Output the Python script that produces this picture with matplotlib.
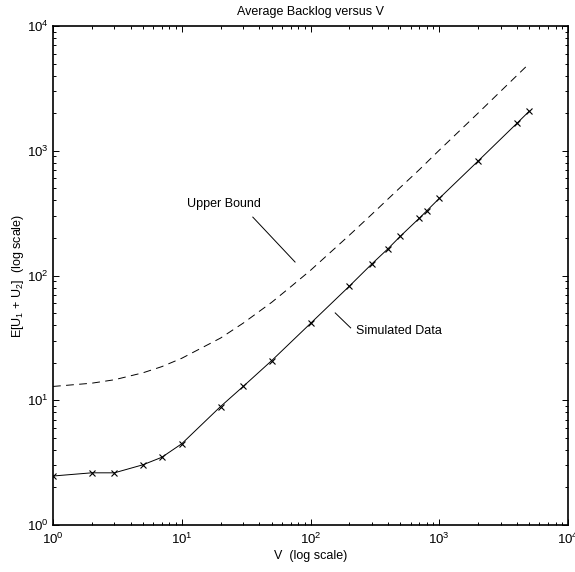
import numpy as np
import matplotlib
matplotlib.use("Agg")
import matplotlib.pyplot as plt
from matplotlib.ticker import LogLocator, FixedLocator, NullFormatter

plt.rcParams['font.family'] = ['Liberation Sans Narrow', 'Liberation Sans', 'DejaVu Sans']
plt.rcParams['mathtext.fontset'] = 'custom'
plt.rcParams['mathtext.rm'] = 'Liberation Sans'
plt.rcParams['mathtext.it'] = 'Liberation Sans'

# simulated backlog
v_sim = [1, 2, 3, 5, 7, 10, 20, 30, 50, 100, 200, 300, 400, 500, 700, 800, 1000, 2000, 4000, 5000]
u_sim = [2.47, 2.62, 2.62, 3.04, 3.49, 4.48, 8.9, 12.9, 20.8, 41.3, 82, 124, 164, 207, 288, 330, 415, 826, 1655, 2076]

# upper bound curve
v_bound = [1, 2, 3, 5, 7, 10, 20, 30, 50, 70, 100, 200, 300, 500, 700, 1000, 2000, 3000, 5000]
u_bound = [12.9, 13.7, 14.6, 16.6, 18.6, 21.7, 31.5, 41.5, 61, 81, 110, 210, 310, 510, 705, 1010, 2000, 3000, 5000]

xticks = [1, 10, 100, 1000, 10000]
xticklabels = ['$10^{0}$', '$10^{1}$', '$10^{2}$', '$10^{3}$', '$10^{4}$']
yticks = [1, 10, 100, 1000, 10000]
yticklabels = ['$10^{0}$', '$10^{1}$', '$10^{2}$', '$10^{3}$', '$10^{4}$']

fig = plt.figure(figsize=(5.75, 5.72), dpi=100)
ax = fig.add_axes([53/575, 47/572, 515/575, 499/572])

ax.plot(v_bound, u_bound, 'k--', lw=0.7, dashes=(8, 5.5))
ax.plot(v_sim, u_sim, 'k-', lw=0.7, marker='x', ms=5, mew=0.8)

ax.set_xscale('log')
ax.set_yscale('log')
ax.set_xlim(1, 10000)
ax.set_ylim(1, 10000)
ax.xaxis.set_major_locator(FixedLocator(xticks))
ax.yaxis.set_major_locator(FixedLocator(yticks))
ax.set_xticklabels(xticklabels)
ax.set_yticklabels(yticklabels)
ax.xaxis.set_minor_locator(LogLocator(base=10, subs=np.arange(2, 10)))
ax.yaxis.set_minor_locator(LogLocator(base=10, subs=np.arange(2, 10)))
ax.xaxis.set_minor_formatter(NullFormatter())
ax.yaxis.set_minor_formatter(NullFormatter())

ax.tick_params(which='both', direction='in', top=True, right=True, width=0.7)
ax.tick_params(which='major', length=4, labelsize=9.5)
ax.tick_params(which='minor', length=2)
ax.tick_params(axis='x', which='major', pad=5)
ax.tick_params(axis='y', which='major', pad=3)
for s in ax.spines.values():
    s.set_linewidth(1.2)

ax.set_title('Average Backlog versus V', fontsize=9, pad=8)
ax.set_xlabel('V  (log scale)', fontsize=9, labelpad=2)
ax.set_ylabel('E[U$_1$ + U$_2$]  (log scale)', fontsize=9, labelpad=1)

# annotations
ax.text(0.260, 0.643, 'Upper Bound', transform=ax.transAxes, fontsize=9, va='center', ha='left')
ax.plot([0.388, 0.470], [0.617, 0.527], 'k-', lw=0.7, transform=ax.transAxes)
ax.text(0.588, 0.389, 'Simulated Data', transform=ax.transAxes, fontsize=9, va='center', ha='left')
ax.plot([0.548, 0.578], [0.425, 0.395], 'k-', lw=0.7, transform=ax.transAxes)

plt.savefig('out.png', dpi=100)
